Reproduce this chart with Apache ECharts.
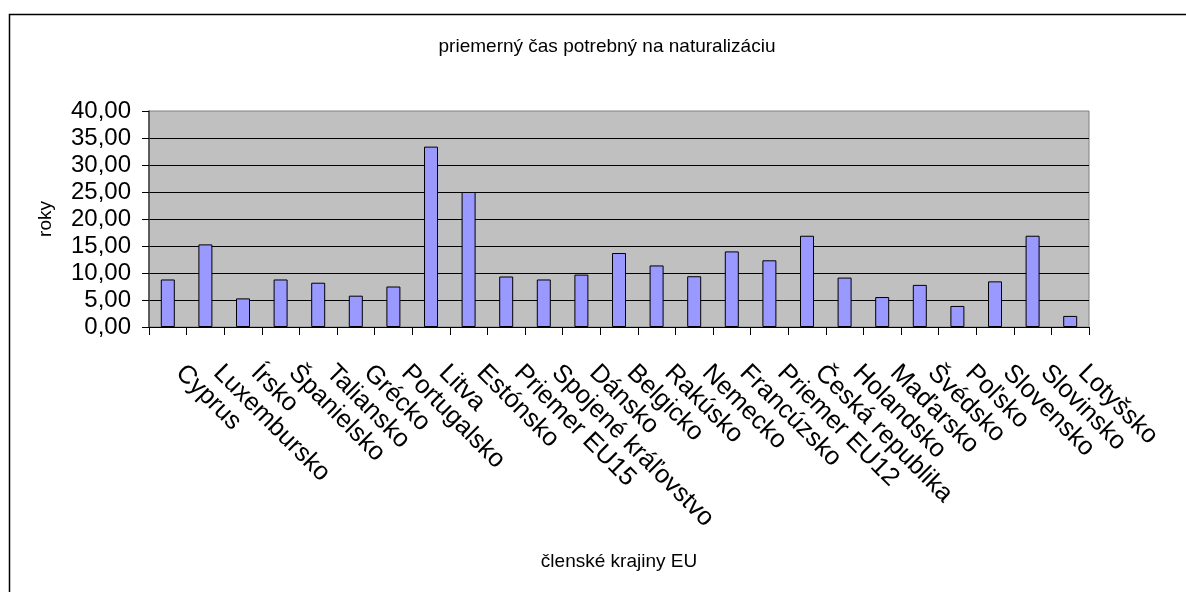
<!DOCTYPE html>
<html>
<head>
<meta charset="utf-8">
<script src="https://cdn.jsdelivr.net/npm/echarts@6/dist/echarts.min.js"></script>
<style>
html,body{margin:0;padding:0;background:#fff;}
#c{width:1186px;height:592px;}
</style>
</head>
<body>
<div id="c"></div>
<script>
const categories = ["Cyprus","Luxembursko","Írsko","Španielsko","Taliansko","Grécko","Portugalsko","Litva","Estónsko","Priemer EU15","Spojené kráľovstvo","Dánsko","Belgicko","Rakúsko","Nemecko","Francúzsko","Priemer EU12","Česká republika","Holandsko","Maďarsko","Švédsko","Poľsko","Slovensko","Slovinsko","Lotyšsko"];
const values = [8.8,15.3,5.3,8.8,8.2,5.8,7.5,33.4,25.0,9.35,8.8,9.7,13.7,11.4,9.4,14.0,12.35,16.9,9.15,5.55,7.8,3.9,8.45,16.9,2.05];
const titleText = "priemerný čas potrebný na naturalizáciu";
const yName = "roky";
const xName = "členské krajiny EU";
const yMin = 0, yMax = 40, yStep = 5;

const FONT = "'Liberation Sans', Arial, sans-serif";
const chart = echarts.init(document.getElementById('c'));
chart.setOption({
  animation: false,
  backgroundColor: '#ffffff',
  title: {
    text: titleText,
    left: 602, top: 32, textAlign: 'center',
    textStyle: {fontFamily: FONT, fontSize: 19, fontWeight: 'normal', color: '#000'}
  },
  graphic: [{
    type: 'rect', left: 7, top: 12, silent: true,
    shape: {width: 1250, height: 650},
    style: {fill: 'none', stroke: '#000', lineWidth: 1.5}
  }],
  grid: {
    left: 149, top: 111, width: 940, height: 216,
    show: true, backgroundColor: '#C0C0C0', borderColor: '#808080', borderWidth: 1
  },
  xAxis: {
    type: 'category',
    data: categories,
    name: xName, nameLocation: 'middle', nameGap: 225,
    nameTextStyle: {fontFamily: FONT, fontSize: 19, color: '#000'},
    axisLine: {lineStyle: {color: '#000', width: 1}},
    axisTick: {show: true, alignWithLabel: false, length: 8, lineStyle: {color: '#000'}},
    axisLabel: {
      interval: 0, rotate: -45, margin: 30,
      fontFamily: FONT, fontSize: 25.5, color: '#000',
      padding: [0, 0, 0, 17]
    },
    splitLine: {show: false}
  },
  yAxis: {
    type: 'value', min: yMin, max: yMax, interval: yStep,
    name: yName, nameLocation: 'middle', nameGap: 94, nameRotate: 90,
    nameTextStyle: {fontFamily: FONT, fontSize: 19, color: '#000'},
    axisLine: {show: true, lineStyle: {color: '#404040', width: 1.5}},
    axisTick: {show: true, length: 7, lineStyle: {color: '#000'}},
    axisLabel: {
      margin: 18, fontFamily: FONT, fontSize: 24, color: '#000',
      formatter: v => v.toFixed(2).replace('.', ',')
    },
    splitLine: {show: true, showMinLine: false, showMaxLine: false, lineStyle: {color: '#000', width: 1}}
  },
  series: [{
    type: 'bar',
    data: values,
    barWidth: 14,
    itemStyle: {color: '#9999FF', borderColor: '#000', borderWidth: 1}
  }]
});
</script>
</body>
</html>
